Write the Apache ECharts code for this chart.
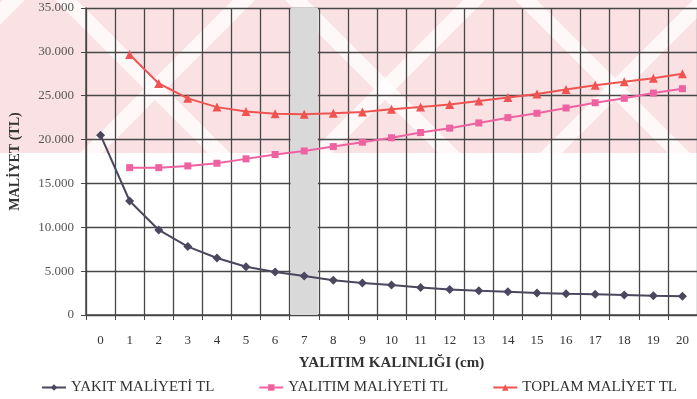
<!DOCTYPE html>
<html>
<head>
<meta charset="utf-8">
<script src="https://cdn.jsdelivr.net/npm/echarts@6/dist/echarts.min.js"></script>
<style>
  html, body { margin: 0; padding: 0; background: #fff; }
  #chart { width: 697px; height: 399px; }
</style>
</head>
<body>
<div id="chart"></div>
<script>
// kalinlik (cm)
var categories = ["0","1","2","3","4","5","6","7","8","9","10","11","12","13","14","15","16","17","18","19","20"];
// yakit maliyeti
var yakitData = [20500, 13000, 9700, 7800, 6500, 5500, 4900, 4450, 3950, 3650, 3420, 3130, 2900, 2760, 2640, 2500, 2420, 2370, 2280, 2200, 2130];
// yalitim maliyeti (0 cm yok)
var yalitimData = ["-", 16800, 16800, 17000, 17300, 17800, 18300, 18700, 19200, 19700, 20200, 20800, 21300, 21900, 22500, 23000, 23600, 24200, 24700, 25300, 25800];
// toplam
var toplamData = ["-", 29700, 26400, 24700, 23700, 23200, 22950, 22900, 23000, 23150, 23450, 23700, 24000, 24400, 24800, 25200, 25700, 26200, 26600, 27000, 27500];
var seriesNames = ["YAKIT MALİYETİ TL", "YALITIM MALİYETİ TL", "TOPLAM MALİYET TL"];
// optimum kalinlik kolonu (7 cm)
var optimumData = ["-","-","-","-","-","-","-", 35000, "-","-","-","-","-","-","-","-","-","-","-","-","-"];

var serif = "'Liberation Serif', 'DejaVu Serif', serif";
var gridColor = "#474747";

var myChart = echarts.init(document.getElementById("chart"));

// arka plandaki filigran (pembe bant + beyaz seritler)
var wm = [{
  type: "rect",
  shape: { x: 0, y: 0, width: 697, height: 153 },
  style: { fill: "#fae1e4" }
}];
var stripeStarts = [-150, 80, 310, 540];
for (var s = 0; s < stripeStarts.length; s++) {
  var x0 = stripeStarts[s];
  wm.push({
    type: "polygon",
    shape: { points: [[x0, 153], [x0 + 22, 153], [x0 + 175, 0], [x0 + 153, 0]] },
    style: { fill: "rgba(255,255,255,0.75)" }
  });
  wm.push({
    type: "polygon",
    shape: { points: [[x0 + 205, 0], [x0 + 227, 0], [x0 + 380, 153], [x0 + 358, 153]] },
    style: { fill: "rgba(255,255,255,0.75)" }
  });
}

myChart.setOption({
  backgroundColor: "#fff",
  animation: false,
  graphic: { elements: wm, z: -10 },
  legend: {
    top: 375,
    left: 36,
    itemGap: 44,
    itemWidth: 24,
    itemHeight: 8,
    textStyle: { fontFamily: serif, fontSize: 15, color: "#333" },
    data: seriesNames
  },
  grid: { left: 86, right: -3, top: 8, bottom: 84 },
  xAxis: {
    type: "category",
    data: categories,
    boundaryGap: true,
    name: "YALITIM KALINLIĞI (cm)",
    nameLocation: "middle",
    nameGap: 41,
    nameTextStyle: { fontFamily: serif, fontSize: 15, fontWeight: "bold", color: "#333" },
    axisLine: { lineStyle: { color: gridColor, width: 1.5 } },
    axisTick: { show: true, length: 5, lineStyle: { color: gridColor } },
    axisLabel: { fontFamily: serif, fontSize: 13, color: "#333", margin: 19 },
    splitLine: { show: true, lineStyle: { color: gridColor, width: 1.3 } }
  },
  yAxis: {
    type: "value",
    min: 0,
    max: 35000,
    interval: 5000,
    name: "MALİYET (TL)",
    nameLocation: "middle",
    nameGap: 64,
    nameTextStyle: { fontFamily: serif, fontSize: 14, fontWeight: "bold", color: "#333" },
    axisLine: { show: true, lineStyle: { color: gridColor, width: 1.5 } },
    axisTick: { show: true, length: 5, lineStyle: { color: gridColor } },
    axisLabel: {
      fontFamily: serif, fontSize: 13, color: "#555", margin: 12,
      formatter: function (v) { return v === 0 ? "0" : (v / 1000) + ".000"; }
    },
    splitLine: { show: true, lineStyle: { color: gridColor, width: 1.3 } }
  },
  series: [
    {
      name: "optimum",
      type: "bar",
      data: optimumData,
      barWidth: "94%",
      silent: true,
      z: 1,
      itemStyle: { color: "#d9d9d9" }
    },
    {
      name: seriesNames[0],
      type: "line",
      data: yakitData,
      symbol: "diamond",
      symbolSize: 9,
      color: "#4a475f",
      lineStyle: { width: 2 }
    },
    {
      name: seriesNames[1],
      type: "line",
      data: yalitimData,
      symbol: "rect",
      symbolSize: 7,
      color: "#ee62a2",
      lineStyle: { width: 2 }
    },
    {
      name: seriesNames[2],
      type: "line",
      data: toplamData,
      symbol: "triangle",
      symbolSize: 9,
      color: "#ef5450",
      lineStyle: { width: 2 }
    }
  ]
});
window.addEventListener("resize", function () { myChart.resize(); });
</script>
</body>
</html>
